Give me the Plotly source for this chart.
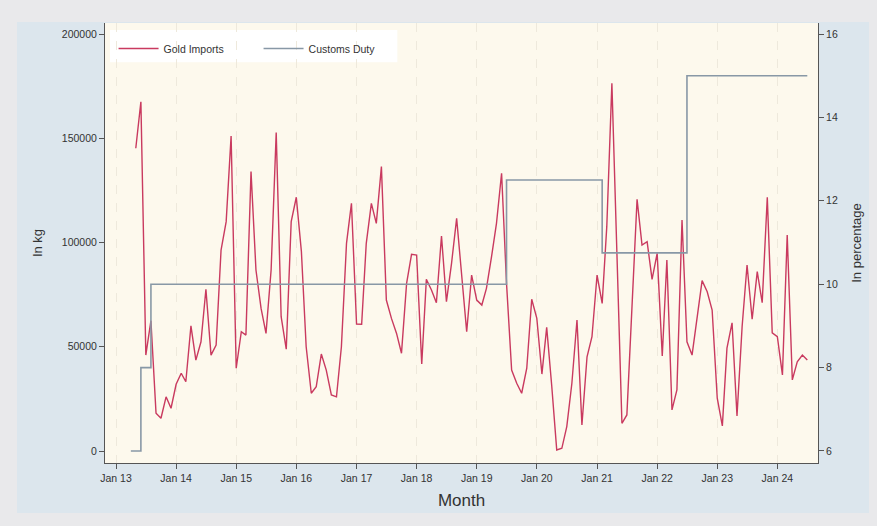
import plotly.graph_objects as go
import pandas as pd

# Gold imports (kg), monthly from May 2013 to Jul 2024
gold_start = "2013-05-01"
gold_kg = [
    145200, 167500, 46000, 62500, 18100, 15700, 26000, 20500,
    32000, 37300, 33200, 60000, 43600, 52400, 77600, 46000, 50800, 96400, 110000, 151100,
    39700, 57200, 55600, 134000, 86800, 68400, 56400, 86800, 152700, 64400, 48800, 110000,
    121700, 95600, 50000, 27700, 30800, 46500, 38800, 26900, 26000, 50000, 99600, 118800,
    60900, 60800, 99600, 118800, 109200, 136400, 72400, 63600, 56400, 46900, 80400, 94300,
    94000, 41700, 82300, 77200, 71100, 103100, 71600, 90000, 111600, 84000, 57200, 84400,
    72400, 70000, 78000, 93200, 109200, 133200, 80400, 38800, 32500, 27700, 39700, 72800,
    63600, 36900, 59300, 30800, 500, 1300, 11700, 32500, 62800, 12500, 45200, 54800,
    84400, 70800, 107600, 176400, 99600, 13300, 17300, 70800, 120700, 98800, 100400, 82300,
    94800, 45600, 91600, 19700, 29300, 110800, 52400, 46000, 64400, 81700, 76400, 67600,
    25300, 12000, 49300, 61500, 16800, 59600, 89200, 63200, 86000, 71100, 121700, 56700,
    54800, 36500, 103600, 34100, 42800, 46000, 43600,
]
gold_months = pd.date_range(gold_start, periods=len(gold_kg), freq="MS")

# Customs duty (%), change points (stair-step)
duty_dates = ["2013-04-01", "2013-06-01", "2013-08-01", "2019-07-01", "2021-02-01", "2022-07-01", "2024-07-01"]
duty_rates = [6, 8, 10, 12.5, 10.75, 15, 15]

tick_years = list(range(2013, 2025))
tick_vals = [f"{y}-01-01" for y in tick_years]
tick_text = [f"Jan {y % 100:02d}" for y in tick_years]
left_ticks = [0, 50000, 100000, 150000, 200000]
right_ticks = [6, 8, 10, 12, 14, 16]

FONT = "Liberation Sans, Arial, sans-serif"
TXT = "#333333"

fig = go.Figure()
fig.add_trace(go.Scatter(
    x=gold_months, y=gold_kg, name="Gold Imports", mode="lines",
    line=dict(color="#c93a5f", width=1.4), yaxis="y",
))
fig.add_trace(go.Scatter(
    x=pd.to_datetime(duty_dates), y=duty_rates, name="Customs Duty", mode="lines",
    line=dict(color="#8898a6", width=1.6, shape="hv"), yaxis="y2",
))

fig.update_layout(
    width=877, height=526,
    margin=dict(l=105, r=59, t=23, b=63),
    paper_bgcolor="#e9e9eb",
    plot_bgcolor="#fdf9ed",
    font=dict(family=FONT, size=11, color=TXT),
    showlegend=True,
    legend=dict(
        orientation="h", x=0.012, y=0.975, xanchor="left", yanchor="top",
        bgcolor="rgba(0,0,0,0)", font=dict(size=10.5, color=TXT),
        entrywidth=90, itemwidth=40,
    ),
    xaxis=dict(
        type="date", range=["2012-10-26", "2024-09-04"],
        tickvals=tick_vals, ticktext=tick_text,
        ticks="outside", ticklen=5, tickcolor="#555555",
        showline=True, linecolor="#555555", linewidth=1,
        showgrid=True, gridcolor="#eee9dc", griddash="dash", gridwidth=1,
        zeroline=False, tickfont=dict(size=10.5, color=TXT),
        title=dict(text="Month", font=dict(size=17, color=TXT), standoff=11),
    ),
    yaxis=dict(
        range=[-5755, 205275], tickvals=left_ticks, tickformat="d",
        ticks="outside", ticklen=5, tickcolor="#555555",
        showline=True, linecolor="#555555", linewidth=1,
        showgrid=False, zeroline=False, tickfont=dict(size=10.5, color=TXT),
        title=dict(text="In kg", font=dict(size=13, color=TXT), standoff=16),
    ),
    yaxis2=dict(
        overlaying="y", side="right", range=[5.712, 16.264], tickvals=right_ticks,
        ticks="outside", ticklen=5, tickcolor="#555555",
        showline=True, linecolor="#555555", linewidth=1,
        showgrid=False, zeroline=False, tickfont=dict(size=10.5, color=TXT),
        title=dict(text="In percentage", font=dict(size=13, color=TXT), standoff=14),
    ),
    shapes=[
        dict(type="rect", xref="paper", yref="paper", layer="below",
             x0=-0.1234, x1=1.0715, y0=-0.1136, y1=1.0023,
             fillcolor="#dce6ed", line=dict(width=0)),
        dict(type="rect", xref="paper", yref="paper", layer="below",
             x0=0, x1=1, y0=0, y1=1,
             fillcolor="#fdf9ed", line=dict(width=0)),
        dict(type="rect", xref="paper", yref="paper", layer="below",
             x0=0.007, x1=0.41, y0=0.911, y1=0.984,
             fillcolor="#ffffff", line=dict(width=0)),
    ],
)

fig.write_html(
    "out.html",
    config={"displayModeBar": False},
    post_script="document.body.style.margin='0';document.body.style.background='#e9e9eb';",
)
